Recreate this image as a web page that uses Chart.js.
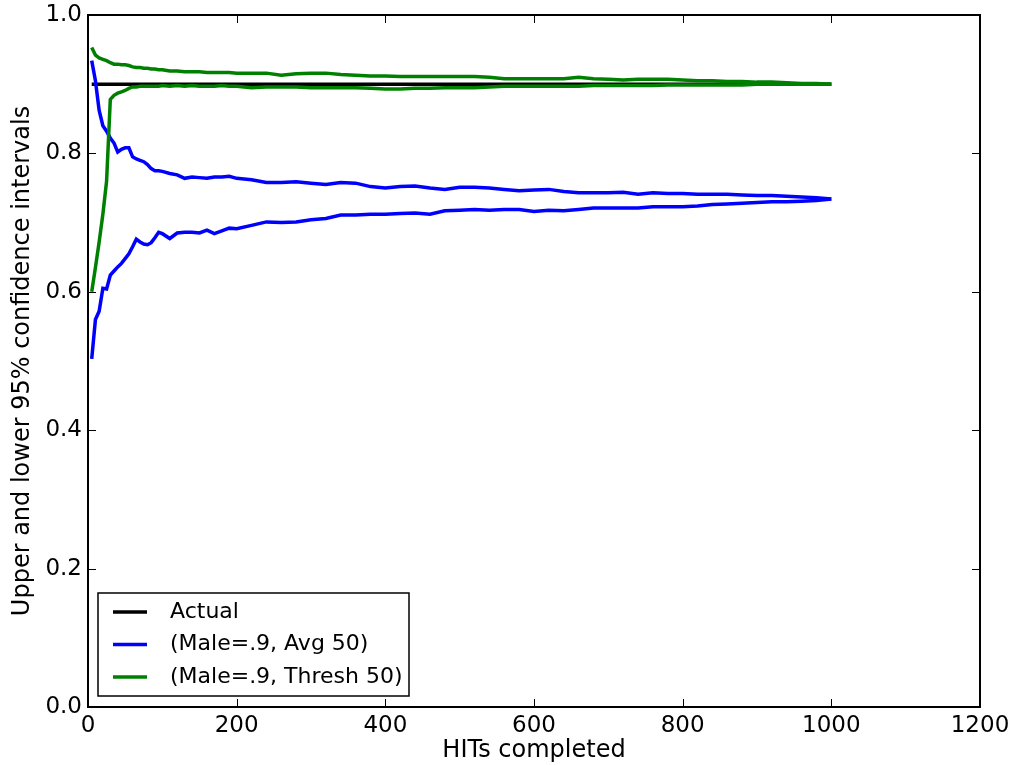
<!DOCTYPE html>
<html>
<head>
<meta charset="utf-8">
<script src="https://cdn.jsdelivr.net/npm/chart.js@4/dist/chart.umd.min.js"></script>
<style>
  html, body { margin: 0; padding: 0; background: #fff; }
  canvas { display: block; }
</style>
</head>
<body>
<canvas id="ciChart" width="1016" height="765"></canvas>
<script>
const hits = [5,10,15,20,25,30,35,40,45,50,55,60,65,70,75,80,85,90,95,100,
  110,120,130,140,150,160,170,180,190,200,220,240,260,280,300,320,340,360,380,400,
  420,440,460,480,500,520,540,560,580,600,620,640,660,680,700,720,740,760,780,800,
  820,840,860,880,900,920,940,960,980,1000];

const actualX = [5, 1000];
const actualY = [0.9, 0.9];

const avgUpper = [.934,.905,.862,.840,.832,.822,.815,.802,.806,.808,.808,.795,.792,.790,.788,.784,.778,.775,.775,.774,
  .771,.769,.764,.766,.765,.764,.766,.766,.767,.764,.762,.758,.758,.759,.757,.755,.758,.757,.752,.750,
  .752,.753,.750,.748,.751,.751,.750,.748,.746,.747,.748,.745,.743,.743,.743,.744,.741,.743,.742,.742,
  .741,.741,.741,.740,.739,.739,.738,.737,.736,.734];

const avgLower = [.503,.560,.572,.605,.604,.624,.630,.636,.641,.648,.655,.665,.676,.672,.669,.668,.671,.678,.686,.684,
  .677,.685,.686,.686,.685,.689,.684,.688,.692,.691,.696,.701,.700,.701,.704,.706,.711,.711,.712,.712,
  .713,.714,.712,.717,.718,.719,.718,.719,.719,.716,.718,.717,.719,.721,.721,.721,.721,.723,.723,.723,
  .724,.726,.727,.728,.729,.730,.730,.731,.732,.734];

const threshUpper = [.953,.942,.938,.936,.934,.931,.929,.929,.928,.928,.927,.925,.924,.924,.923,.923,.922,.922,.921,.921,
  .919,.919,.918,.918,.918,.917,.917,.917,.917,.916,.916,.916,.913,.915,.916,.916,.914,.913,.912,.912,
  .911,.911,.911,.911,.911,.911,.910,.908,.908,.908,.908,.908,.910,.908,.907,.906,.907,.907,.907,.906,
  .905,.905,.904,.904,.903,.903,.902,.901,.901,.900];

const threshLower = [.600,.635,.672,.712,.760,.878,.884,.887,.889,.891,.894,.896,.896,.897,.897,.897,.897,.897,.897,.898,
  .897,.898,.897,.898,.897,.897,.897,.898,.897,.897,.895,.896,.896,.896,.895,.895,.895,.895,.894,.893,
  .893,.894,.894,.895,.895,.895,.896,.897,.897,.897,.897,.897,.897,.898,.898,.898,.898,.898,.899,.899,
  .899,.899,.899,.899,.900,.900,.900,.900,.900,.900];

const xTicks = [0, 200, 400, 600, 800, 1000, 1200];
const yTicks = [0.0, 0.2, 0.4, 0.6, 0.8, 1.0];

const legendItems = [
  { label: 'Actual', color: '#000000' },
  { label: '(Male=.9, Avg 50)', color: '#0000ff' },
  { label: '(Male=.9, Thresh 50)', color: '#008000' }
];

const FONT = 'DejaVu Sans';

function pts(xs, ys) {
  return xs.map((x, i) => ({ x: x, y: ys[i] }));
}

function lineSet(label, xs, ys, color, order) {
  return {
    label: label,
    data: pts(xs, ys),
    borderColor: color,
    backgroundColor: color,
    borderWidth: 3.5,
    pointRadius: 0,
    tension: 0,
    fill: false,
    order: order
  };
}

// frame, inward ticks on all four sides, boxed legend
const mplFrame = {
  id: 'mplFrame',
  afterDatasetsDraw(chart) {
    const ctx = chart.ctx;
    const a = chart.chartArea;
    const xs = chart.scales.x;
    const ys = chart.scales.y;
    ctx.save();
    ctx.strokeStyle = '#000';
    ctx.lineWidth = 1;
    const tl = 8;
    ctx.beginPath();
    xTicks.forEach(v => {
      const px = Math.round(xs.getPixelForValue(v)) + 0.5;
      ctx.moveTo(px, a.bottom); ctx.lineTo(px, a.bottom - tl);
      ctx.moveTo(px, a.top); ctx.lineTo(px, a.top + tl);
    });
    yTicks.forEach(v => {
      const py = Math.round(ys.getPixelForValue(v)) + 0.5;
      ctx.moveTo(a.left, py); ctx.lineTo(a.left + tl, py);
      ctx.moveTo(a.right, py); ctx.lineTo(a.right - tl, py);
    });
    ctx.stroke();
    ctx.lineWidth = 2;
    ctx.strokeRect(a.left, a.top, a.right - a.left, a.bottom - a.top);

    // legend
    const lx = 98, ly = 593, lw = 311, lh = 103;
    ctx.fillStyle = '#fff';
    ctx.fillRect(lx, ly, lw, lh);
    ctx.lineWidth = 1.5;
    ctx.strokeRect(lx, ly, lw, lh);
    ctx.font = '22px "' + FONT + '"';
    ctx.textBaseline = 'middle';
    ctx.textAlign = 'left';
    legendItems.forEach((item, i) => {
      const y = 612 + i * 32.5;
      ctx.strokeStyle = item.color;
      ctx.lineWidth = 3.5;
      ctx.beginPath();
      ctx.moveTo(113, y); ctx.lineTo(147, y);
      ctx.stroke();
      ctx.fillStyle = '#000';
      ctx.fillText(item.label, 170, y);
    });
    ctx.restore();
  }
};

const ctx = document.getElementById('ciChart').getContext('2d');
new Chart(ctx, {
  type: 'line',
  data: {
    datasets: [
      lineSet('(Male=.9, Thresh 50) upper', hits, threshUpper, '#008000', 0),
      lineSet('(Male=.9, Thresh 50) lower', hits, threshLower, '#008000', 0),
      lineSet('(Male=.9, Avg 50) upper', hits, avgUpper, '#0000ff', 1),
      lineSet('(Male=.9, Avg 50) lower', hits, avgLower, '#0000ff', 1),
      lineSet('Actual', actualX, actualY, '#000000', 2)
    ]
  },
  options: {
    responsive: false,
    animation: false,
    layout: { padding: { left: 0, top: 15, right: 36, bottom: 0 } },
    plugins: {
      legend: { display: false },
      tooltip: { enabled: false }
    },
    scales: {
      x: {
        type: 'linear',
        min: 0,
        max: 1200,
        afterBuildTicks(scale) { scale.ticks = xTicks.map(v => ({ value: v })); },
        afterFit(scale) { scale.height = 58; scale.paddingLeft = 0; scale.paddingRight = 0; },
        grid: { display: false, drawTicks: false },
        border: { display: false },
        ticks: {
          color: '#000',
          padding: 5,
          maxRotation: 0,
          font: { family: FONT, size: 23 },
          callback: v => String(v)
        },
        title: {
          display: true,
          text: 'HITs completed',
          color: '#000',
          padding: { top: 0, bottom: 0 },
          font: { family: FONT, size: 24 }
        }
      },
      y: {
        min: 0,
        max: 1,
        afterBuildTicks(scale) { scale.ticks = yTicks.map(v => ({ value: v })); },
        afterFit(scale) { scale.width = 88; scale.paddingTop = 0; scale.paddingBottom = 0; },
        grid: { display: false, drawTicks: false },
        border: { display: false },
        ticks: {
          color: '#000',
          padding: 6,
          font: { family: FONT, size: 23 },
          callback: v => Number(v).toFixed(1)
        },
        title: {
          display: true,
          text: 'Upper and lower 95% confidence intervals',
          color: '#000',
          padding: { top: 8, bottom: 0 },
          font: { family: FONT, size: 24 }
        }
      }
    }
  },
  plugins: [mplFrame]
});
</script>
</body>
</html>
